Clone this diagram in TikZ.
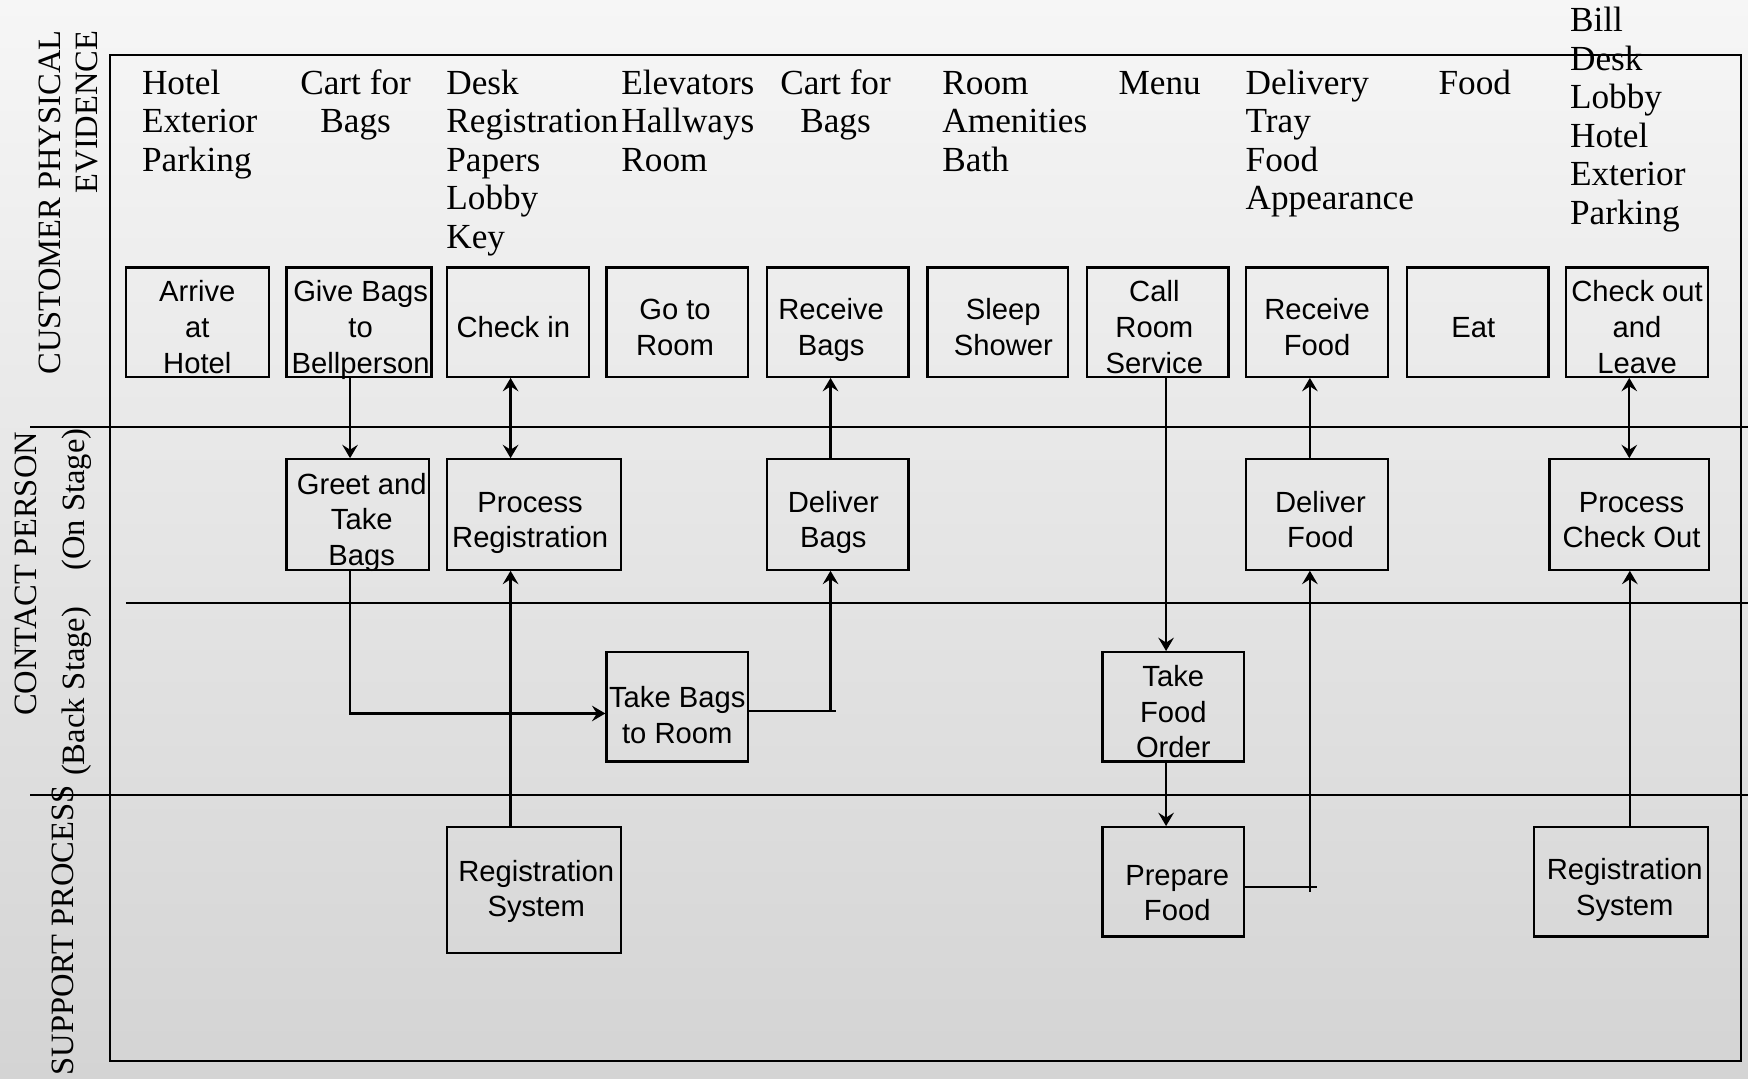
\documentclass[tikz,border=0pt]{standalone}
\usepackage{fontspec}
\setmainfont{Liberation Serif}
\newfontfamily\boxfont{Liberation Sans}
\usetikzlibrary{arrows.meta,fit}

\definecolor{bgtop}{RGB}{246,246,246}
\definecolor{bgbottom}{RGB}{212,212,212}

\begin{document}
\begin{tikzpicture}[x=0.5pt,y=-0.5pt,
  stepbox/.style={draw, line width=1pt, inner sep=0pt},
  boxtext/.style={font={\boxfont\fontsize{13.1}{16}\selectfont}, align=center, inner sep=0pt, yshift=-3.75pt},
  evid/.style={font={\fontsize{15.8}{17.25}\selectfont}, align=left, inner sep=0pt, anchor=north west},
  lanelab/.style={font={\fontsize{14.6}{16.5}\selectfont}, rotate=90, inner sep=0pt},
  laneline/.style={line width=1pt},
  conn/.style={line width=1pt},
  tip/.tip={Stealth[length=6pt,width=7pt,inset=2.2pt]},
  arr/.style={conn, -tip},
  dbl/.style={conn, tip-tip}]

\useasboundingbox (0,0) rectangle (1568,967);
\shade[top color=bgtop, bottom color=bgbottom] (0,0) rectangle (1568,967);

% outer frame and lane separators
\draw[laneline] (99,49) rectangle (1562,952);
\draw[laneline] (27,383) -- (1568,383);
\draw[laneline] (113,541) -- (1568,541);
\draw[laneline] (27,713) -- (1568,713);

% lane titles
\node[lanelab, align=right, anchor=north east] (lblcust) at (30.9,27) {\strut CUSTOMER PHYSICAL\\EVIDENCE};
\node[lanelab, anchor=base east] (lblcontact) at (33,387) {CONTACT PERSON};
\node[lanelab, anchor=base east] (lblon) at (76,384) {(On Stage)};
\node[lanelab, anchor=base east] (lblback) at (76,544) {(Back Stage)};
\node[lanelab, anchor=base east] (lblsupport) at (66,704) {SUPPORT PROCESS};

% physical evidence
\node[evid] (evhotel) at (127,60) {\strut Hotel\\Exterior\\Parking};
\node[evid, align=center, anchor=north] (evcart1) at (319,60) {\strut Cart for\\Bags};
\node[evid] (evdesk) at (400,60) {\strut Desk\\Registration\\Papers\\Lobby\\Key};
\node[evid] (evelev) at (557,60) {\strut Elevators\\Hallways\\Room};
\node[evid, align=center, anchor=north] (evcart2) at (749.5,60) {\strut Cart for\\Bags};
\node[evid] (evroom) at (845,60) {\strut Room\\Amenities\\Bath};
\node[evid] (evmenu) at (1003,60) {\strut Menu};
\node[evid] (evdeliv) at (1117,60) {\strut Delivery\\Tray\\Food\\Appearance};
\node[evid] (evfood) at (1290,60) {\strut Food};
\node[evid] (evbill) at (1408,4) {\strut Bill\\Desk\\Lobby\\Hotel\\Exterior\\Parking};

% customer actions
\node[stepbox, fit={(113,240) (241,338)}] (arrive) {};
\node[stepbox, fit={(257,240) (387,338)}] (givebags) {};
\node[stepbox, fit={(401,240) (528,338)}] (checkin) {};
\node[stepbox, fit={(544,240) (671,338)}] (goroom) {};
\node[stepbox, fit={(688,240) (815,338)}] (recbags) {};
\node[stepbox, fit={(832,240) (958,338)}] (sleep) {};
\node[stepbox, fit={(975,240) (1102,338)}] (callrs) {};
\node[stepbox, fit={(1118,240) (1245,338)}] (recfood) {};
\node[stepbox, fit={(1262,240) (1389,338)}] (eat) {};
\node[stepbox, fit={(1405,240) (1532,338)}] (checkout) {};

\node[boxtext] at (arrive.center) {\strut Arrive\\at\\Hotel\strut};
\node[boxtext, xshift=0.75pt] at (givebags.center) {\strut Give Bags\\to\\Bellperson\strut};
\node[boxtext, xshift=-2pt] at (checkin.center) {\strut Check in\strut};
\node[boxtext, xshift=-1pt] at (goroom.center) {\strut Go to\\Room\strut};
\node[boxtext, xshift=-3pt] at (recbags.center) {\strut Receive\\Bags\strut};
\node[boxtext, xshift=2.5pt] at (sleep.center) {\strut Sleep\\Shower\strut};
\node[boxtext, xshift=-1.5pt] at (callrs.center) {\strut Call\\Room\\Service\strut};
\node[boxtext] at (recfood.center) {\strut Receive\\Food\strut};
\node[boxtext, xshift=-2pt] at (eat.center) {\strut Eat\strut};
\node[boxtext] at (checkout.center) {\strut Check out\\and\\Leave\strut};

% onstage contact
\node[stepbox, fit={(257,412) (385,511)}] (greet) {};
\node[stepbox, fit={(401,412) (557,511)}] (procreg) {};
\node[stepbox, fit={(688,412) (815,511)}] (delbags) {};
\node[stepbox, fit={(1118,412) (1245,511)}] (delfood) {};
\node[stepbox, fit={(1390,412) (1533,511)}] (proccheck) {};

\node[boxtext, xshift=1.75pt] at (greet.center) {\strut Greet and\\Take\\Bags\strut};
\node[boxtext, xshift=-1.75pt] at (procreg.center) {\strut Process\\Registration\strut};
\node[boxtext, xshift=-2pt] at (delbags.center) {\strut Deliver\\Bags\strut};
\node[boxtext, xshift=1.5pt] at (delfood.center) {\strut Deliver\\Food\strut};
\node[boxtext, xshift=1pt] at (proccheck.center) {\strut Process\\Check Out\strut};

% backstage contact
\node[stepbox, fit={(544,585) (671,683)}] (takebags) {};
\node[stepbox, fit={(989,585) (1116,683)}] (takefood) {};

\node[boxtext, yshift=-1.5pt] at (takebags.center) {\strut Take Bags\\to Room\strut};
\node[boxtext] at (takefood.center) {\strut Take\\Food\\Order\strut};

% support processes
\node[stepbox, fit={(401,742) (557,855)}] (regsys1) {};
\node[stepbox, fit={(989,742) (1116,840)}] (prepfood) {};
\node[stepbox, fit={(1376,742) (1532,840)}] (regsys2) {};

\node[boxtext, yshift=3pt, xshift=1pt] at (regsys1.center) {\strut Registration\\System\strut};
\node[boxtext, yshift=-2.5pt, xshift=1.75pt] at (prepfood.center) {\strut Prepare\\Food\strut};
\node[boxtext, xshift=1.75pt] at (regsys2.center) {\strut Registration\\System\strut};

% flows
\draw[arr] ([xshift=-4pt]givebags.south) -- ([xshift=-4pt]givebags.south |- greet.north);
\draw[dbl] ([xshift=-3.25pt]checkin.south) -- ([xshift=-3.25pt]checkin.south |- procreg.north);
\draw[arr] ([xshift=-3.25pt]delbags.north) -- ([xshift=-3.25pt]delbags.north |- recbags.south);
\draw[arr] ([xshift=-3.25pt]delfood.north) -- ([xshift=-3.25pt]delfood.north |- recfood.south);
\draw[dbl] (proccheck.north) -- (proccheck.north |- checkout.south);

\draw[arr] ([xshift=-3.5pt]greet.south) |- ([yshift=-3pt]takebags.west);
\draw[arr] ([xshift=-10.5pt]regsys1.north) -- ([xshift=-10.5pt]regsys1.north |- procreg.south);

\coordinate (bagjoin) at (745,638);
\coordinate (bagtip) at (750,638);
\draw[conn] ([yshift=-2pt]takebags.east) -- (bagtip);
\draw[arr] (bagjoin) -- (bagjoin |- delbags.south);

\draw[arr] ([xshift=3.75pt]callrs.south) -- ([xshift=3.75pt]callrs.south |- takefood.north);
\draw[arr] ([xshift=-3.25pt]takefood.south) -- ([xshift=-3.25pt]takefood.south |- prepfood.north);

\coordinate (foodjoin) at (1175,800);
\coordinate (foodtip) at (1181,796);
\draw[conn] ([yshift=-2.5pt]prepfood.east) -- (foodtip);
\draw[arr] (foodjoin) -- (foodjoin |- delfood.south);

\draw[arr] ([xshift=4pt]regsys2.north) -- ([xshift=4pt]regsys2.north |- proccheck.south);

\end{tikzpicture}
\end{document}
